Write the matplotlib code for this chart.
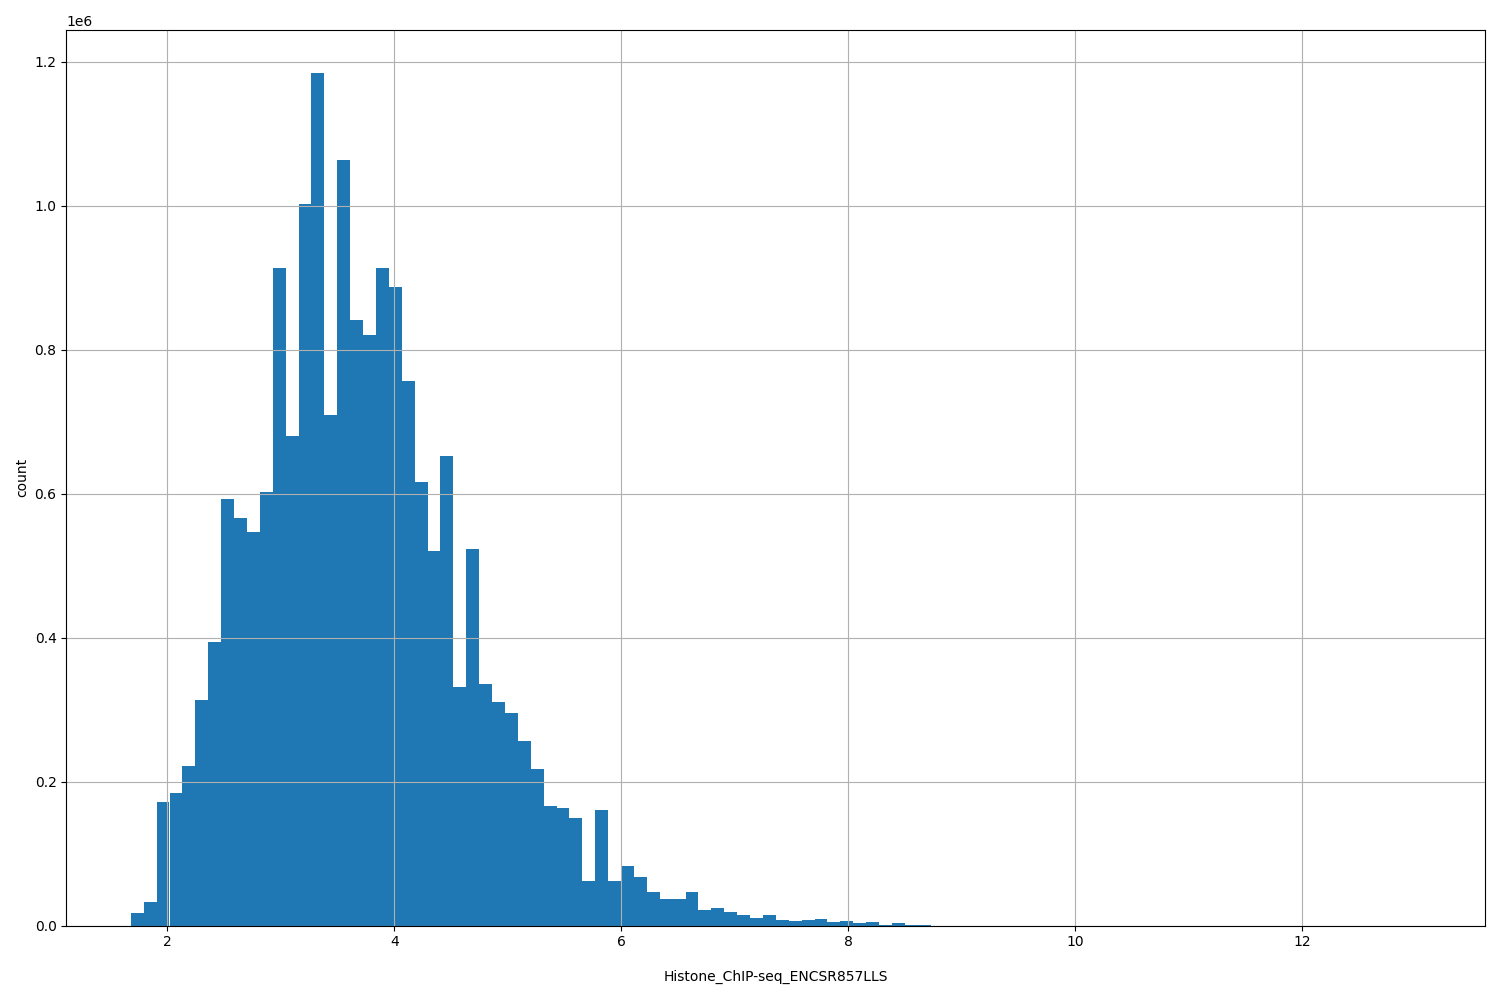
import numpy as np
import matplotlib
matplotlib.use("Agg")
import matplotlib.pyplot as plt

# histogram of signal values, 100 equal bins between min and max
x_min = 1.678
x_max = 13.043
n_bins = 100

# bin counts (first 60 bins, the rest look empty)
counts_head = [
    18000, 32000, 171000, 184000, 221000, 313000, 394000, 592000, 566000, 547000,
    602000, 913000, 680000, 1002000, 1185000, 709000, 1064000, 842000, 820000, 913000,
    887000, 756000, 616000, 521000, 653000, 332000, 523000, 336000, 311000, 295000,
    256000, 217000, 166000, 163000, 150000, 62000, 161000, 62000, 83000, 67000,
    47000, 37000, 37000, 47000, 21000, 24000, 19000, 15000, 11000, 15000,
    8300, 6900, 8300, 9700, 4200, 5600, 2800, 4200, 1000, 2800,
]
counts_tail = [400, 200] + [0] * 38
counts = np.array(counts_head + counts_tail, dtype=float)

edges = np.linspace(x_min, x_max, n_bins + 1)
centers = (edges[:-1] + edges[1:]) / 2

fig, ax = plt.subplots(figsize=(15, 10), dpi=100)
fig.subplots_adjust(left=0.0442, right=0.9902, top=0.97, bottom=0.0745)

ax.hist(centers, bins=edges, weights=counts, color="#1f77b4")
ax.grid(True)
ax.set_xlabel("Histone_ChIP-seq_ENCSR857LLS", labelpad=15)
ax.set_ylabel("count")

fig.savefig("out.png")
